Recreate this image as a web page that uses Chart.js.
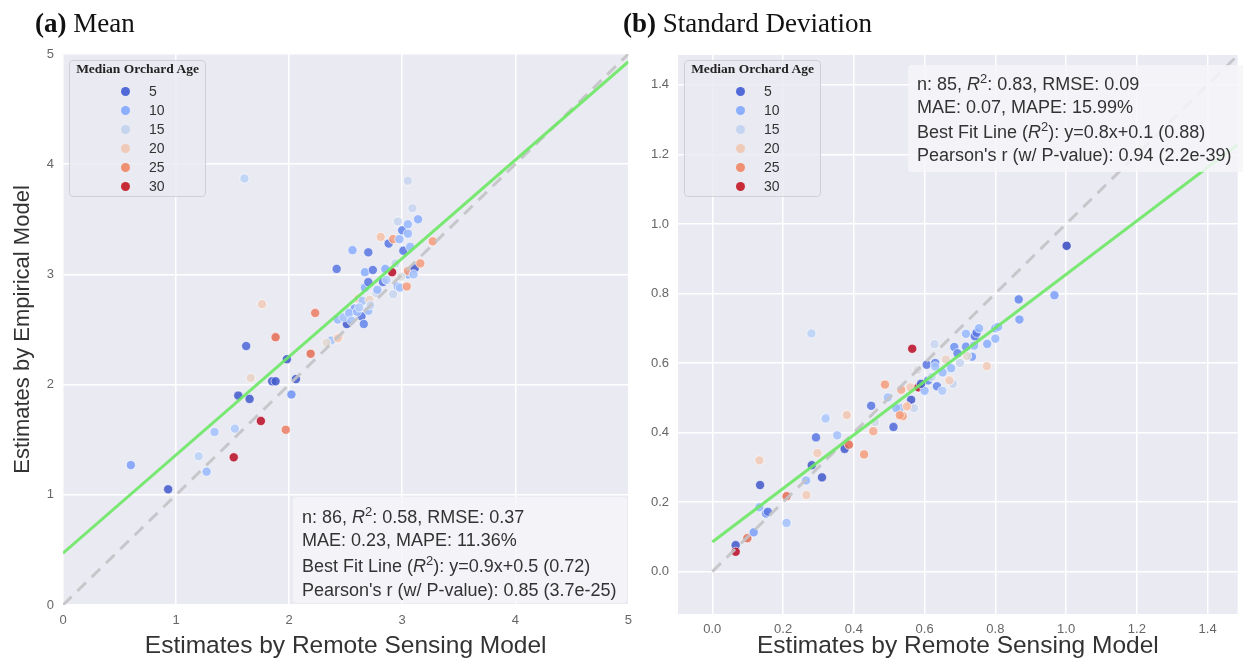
<!DOCTYPE html>
<html><head><meta charset="utf-8">
<script src="https://cdn.jsdelivr.net/npm/chart.js@4.4.1/dist/chart.umd.min.js"></script>
<style>
html,body{margin:0;padding:0;background:#fff;}
#wrap{position:relative;width:1243px;height:660px;overflow:hidden;font-family:"Liberation Sans",Arial,sans-serif;}
canvas{position:absolute;top:0;}
.ttl{position:absolute;font-family:"Liberation Serif","Times New Roman",serif;font-size:27px;line-height:27px;color:#111;white-space:nowrap;}
.leg{position:absolute;width:137px;height:137px;background:rgba(234,234,242,0.85);border:1px solid #d0d0d8;border-radius:4px;box-sizing:border-box;}
.lt{position:absolute;left:0;right:0;top:1px;text-align:center;font-family:"Liberation Serif",serif;font-weight:bold;font-size:13.5px;line-height:13.5px;color:#222;white-space:nowrap;}
.dot{position:absolute;width:9px;height:9px;border-radius:50%;}
.lab{position:absolute;font-size:14px;line-height:14px;color:#333;}
.stats{position:absolute;background:rgba(246,246,249,0.85);border-radius:4px;}
.sl{position:absolute;font-size:18px;line-height:18px;color:#333;white-space:nowrap;}
.sl sup{font-size:13px;vertical-align:7px;line-height:0;}
</style></head>
<body><div id="wrap">
<canvas id="c1" width="640" height="660" style="left:0"></canvas>
<canvas id="c2" width="603" height="660" style="left:640px"></canvas>
<div class="ttl" style="left:35px;top:10px"><b>(a)</b> Mean</div>
<div class="ttl" style="left:623px;top:10px"><b>(b)</b> Standard Deviation</div>
</div>
<script>
// ---------- data ----------
const ageTicks = [5, 10, 15, 20, 25, 30];
const meanTicks = [0, 1, 2, 3, 4, 5];
const sdTicks = [0, 0.2, 0.4, 0.6, 0.8, 1.0, 1.2, 1.4];

const meanX = [0.60,0.93,1.20,1.27,1.34,1.52,1.51,1.75,1.97,1.55,1.65,1.66,1.62,1.85,1.88,2.06,2.02,1.98,1.88,1.76,
  2.19,2.23,2.51,2.42,2.56,2.70,2.37,2.44,2.43,2.48,2.58,2.64,2.70,2.61,2.65,2.71,2.67,2.70,2.67,2.74,
  2.83,2.91,2.92,2.96,2.98,3.05,3.05,3.04,3.11,3.16,3.01,3.07,3.27,2.88,2.92,2.975,3.00,3.05,2.81,1.605,
  3.05,3.09,2.96,3.05,3.14,2.53,2.43,2.55,2.60,2.72,2.77,2.66,2.86,2.94,2.62,2.99,3.10,2.85,2.33,2.78];
const meanY = [1.27,1.05,1.35,1.21,1.57,1.60,1.34,1.67,1.59,1.90,1.87,2.06,2.35,2.03,2.03,2.05,1.91,2.23,2.43,2.73,
  2.28,2.65,2.55,3.05,3.22,3.20,2.40,2.43,2.59,2.61,2.69,2.62,2.67,2.78,2.76,2.77,2.88,2.93,3.02,3.04,
  2.93,3.02,2.82,2.89,2.88,3.00,3.03,2.89,3.055,3.10,3.215,3.25,3.30,3.28,3.32,3.32,3.40,3.37,3.34,3.87,
  3.85,3.60,3.48,3.455,3.50,2.65,2.42,2.58,2.66,2.72,2.83,2.55,2.95,3.10,2.70,2.98,3.00,3.05,2.38,2.86];
const meanAge = [9,4,14,11,12,13,31,31,26,4,4,19,5,4,4,4,8,4,27,20,
  27,26,4,6,10,6,12,20,11,12,9,6,11,20,12,19,10,6,10,6,
  6,31,15,11,12,10,24,24,4,24,6,11,24,6,24,11,7,11,21,14,
  15,15,15,11,10,11,20,12,11,15,16,7,13,15,13,17,12,10,18,11];

const sdX = [0.066,0.066,0.099,0.117,0.135,0.133,0.152,0.157,0.133,0.21,0.21,0.266,0.265,0.281,0.31,0.293,0.297,0.322,0.353,0.374,
  0.386,0.381,0.429,0.455,0.449,0.496,0.512,0.53,0.538,0.557,0.562,0.57,0.488,0.534,0.56,0.583,0.60,0.635,0.68,0.67,
  0.61,0.651,0.606,0.63,0.63,0.66,0.675,0.776,0.628,0.565,0.28,0.684,0.693,0.717,0.734,0.74,0.777,0.717,0.742,0.747,
  0.754,0.80,0.808,0.80,0.866,0.868,0.967,1.0015,0.32,0.38,0.52,0.53,0.55,0.59,0.62,0.65,0.70,0.72,0.46,0.58];
const sdY = [0.076,0.057,0.096,0.113,0.249,0.32,0.167,0.172,0.185,0.217,0.14,0.22,0.262,0.306,0.271,0.386,0.341,0.444,0.392,0.353,
  0.365,0.452,0.337,0.404,0.477,0.501,0.416,0.47,0.447,0.477,0.494,0.47,0.538,0.523,0.53,0.53,0.52,0.533,0.54,0.55,
  0.55,0.573,0.595,0.60,0.59,0.61,0.585,0.591,0.654,0.641,0.685,0.646,0.628,0.647,0.618,0.65,0.655,0.684,0.677,0.687,
  0.70,0.70,0.704,0.67,0.783,0.725,0.795,0.937,0.44,0.45,0.47,0.45,0.475,0.54,0.56,0.52,0.60,0.62,0.43,0.58];
const sdAge = [4,31,27,9,4,20,8,6,11,27,12,20,11,4,4,6,20,14,12,4,
  27,19,24,23,6,12,5,11,24,22,4,15,24,23,20,31,11,7,15,20,
  7,11,6,7,12,19,11,20,15,31,14,8,7,8,9,11,10,11,6,6,
  11,10,11,11,7,9,9,3,13,20,11,24,21,4,15,13,15,18,16,17];

// reference lines (endpoints)
const meanIdX = [0, 5], meanIdY = [0, 5];
const meanFitX = [0, 5], meanFitY = [0.47, 4.93];
const sdIdX = [0, 1.6], sdIdY = [0, 1.6];
const sdFitX = [0, 1.6], sdFitY = [0.085, 1.317];

const meanStats = ['n: 86, <i>R</i><sup>2</sup>: 0.58, RMSE: 0.37', 'MAE: 0.23, MAPE: 11.36%',
  'Best Fit Line (<i>R</i><sup>2</sup>): y=0.9x+0.5 (0.72)', "Pearson's r (w/ P-value): 0.85 (3.7e-25)"];
const sdStats = ['n: 85, <i>R</i><sup>2</sup>: 0.83, RMSE: 0.09', 'MAE: 0.07, MAPE: 15.99%',
  'Best Fit Line (<i>R</i><sup>2</sup>): y=0.8x+0.1 (0.88)', "Pearson's r (w/ P-value): 0.94 (2.2e-39)"];

// ---------- styling helpers ----------
const CW = [[59,76,192],[98,130,234],[141,176,254],[184,208,249],[221,221,221],[245,196,173],[244,154,123],[222,96,77],[180,4,38]];
function coolwarm(age, a) {
  let t = (age - 3) / (31.5 - 3);
  t = Math.max(0, Math.min(1, t)) * (CW.length - 1);
  const i = Math.min(CW.length - 2, Math.floor(t)), f = t - i;
  const c = CW[i].map((v, k) => Math.round(v + (CW[i + 1][k] - v) * f));
  return `rgba(${c[0]},${c[1]},${c[2]},${a})`;
}
Chart.defaults.font.family = "'Liberation Sans', Arial, sans-serif";

const bgPlugin = {
  id: 'bg',
  beforeDraw(chart) {
    const {ctx, chartArea: a} = chart;
    ctx.save(); ctx.fillStyle = '#EAEAF2';
    ctx.fillRect(a.left, a.top, a.right - a.left, a.bottom - a.top);
    ctx.restore();
  }
};

function build(id, cfg) {
  const pts = cfg.x.map((v, i) => ({x: v, y: cfg.y[i]}));
  const line = (xs, ys) => xs.map((v, i) => ({x: v, y: ys[i]}));
  new Chart(document.getElementById(id), {
    type: 'scatter',
    data: {datasets: [
      {type: 'line', data: line(cfg.fitX, cfg.fitY), borderColor: 'rgba(108,232,100,0.9)', borderWidth: 3, pointRadius: 0, fill: false, clip: 0},
      {type: 'line', data: line(cfg.idX, cfg.idY), borderColor: 'rgba(195,195,198,0.9)', borderWidth: 3, borderDash: [12, 8], pointRadius: 0, fill: false, clip: 0},
      {data: pts, pointRadius: 4.6, pointBorderWidth: 0.7, pointBorderColor: 'rgba(255,255,255,0.9)',
       pointBackgroundColor: cfg.age.map(a => coolwarm(a, 0.88)), clip: 0}
    ]},
    plugins: [bgPlugin],
    options: {
      responsive: false, animation: false, events: [],
      layout: {padding: cfg.pad},
      plugins: {legend: {display: false}, tooltip: {enabled: false}},
      scales: {
        x: {type: 'linear', min: cfg.xr[0], max: cfg.xr[1],
          afterBuildTicks: s => { s.ticks = cfg.ticks.map(v => ({value: v})); },
          afterFit: s => { s.height = cfg.xh; },
          ticks: {color: '#666', font: {size: 13}, padding: cfg.xtp, callback: cfg.fmt, maxRotation: 0},
          grid: {color: '#ffffff', lineWidth: 1.5, drawTicks: false},
          border: {display: false},
          title: {display: true, text: 'Estimates by Remote Sensing Model', color: '#333', font: {size: 24.5}, padding: {top: 0, bottom: -1}}
        },
        y: {type: 'linear', min: cfg.yr[0], max: cfg.yr[1],
          afterBuildTicks: s => { s.ticks = cfg.ticks.map(v => ({value: v})); },
          afterFit: s => { s.width = cfg.yw; },
          ticks: {color: '#666', font: {size: 13}, padding: 9, callback: cfg.fmt},
          grid: {color: '#ffffff', lineWidth: 1.5, drawTicks: false},
          border: {display: false},
          title: {display: cfg.ytitle, text: 'Estimates by Empirical Model', color: '#333', font: {size: 22}, padding: {top: 10, bottom: 0}}
        }
      }
    }
  });
}

build('c1', {x: meanX, y: meanY, age: meanAge, fitX: meanFitX, fitY: meanFitY, idX: meanIdX, idY: meanIdY,
  ticks: meanTicks, xr: [0, 5], yr: [0, 5], pad: {left: 0, right: 9, top: 54, bottom: 0},
  xh: 55, yw: 63, xtp: 8, ytitle: true, fmt: v => String(v)});
build('c2', {x: sdX, y: sdY, age: sdAge, fitX: sdFitX, fitY: sdFitY, idX: sdIdX, idY: sdIdY,
  ticks: sdTicks, xr: [-0.097, 1.485], yr: [-0.122, 1.486], pad: {left: 0, right: 2, top: 55, bottom: 0},
  xh: 46, yw: 38, xtp: 8, ytitle: false, fmt: v => v.toFixed(1)});

// ---------- legends & stat boxes ----------
const wrap = document.getElementById('wrap');
function legend(left, top) {
  const d = document.createElement('div');
  d.className = 'leg'; d.style.left = left + 'px'; d.style.top = top + 'px';
  d.innerHTML = '<div class="lt">Median Orchard Age</div>';
  ageTicks.forEach((a, i) => {
    const cy = 30.5 + 19 * i;
    const dot = document.createElement('div');
    dot.className = 'dot'; dot.style.left = (55 - 4.5) + 'px'; dot.style.top = (cy - 4.5) + 'px';
    dot.style.background = coolwarm(a, 1);
    const lab = document.createElement('div');
    lab.className = 'lab'; lab.style.left = '79px'; lab.style.top = (cy - 7.5) + 'px';
    lab.textContent = a;
    d.appendChild(dot); d.appendChild(lab);
  });
  wrap.appendChild(d);
}
legend(69, 60);
legend(684, 60);

function stats(box, lines, tx, bases) {
  const b = document.createElement('div');
  b.className = 'stats';
  Object.assign(b.style, {left: box[0] + 'px', top: box[1] + 'px', width: box[2] + 'px', height: box[3] + 'px'});
  wrap.appendChild(b);
  lines.forEach((t, i) => {
    const s = document.createElement('div');
    s.className = 'sl'; s.style.left = tx + 'px'; s.style.top = (bases[i] - 15.2) + 'px';
    s.innerHTML = t; wrap.appendChild(s);
  });
}
stats([293, 497, 334, 106], meanStats, 302, [523, 546.5, 572.5, 596]);
stats([908, 65, 340, 107], sdStats, 917, [90, 113, 138.5, 161]);
</script>
</body></html>
